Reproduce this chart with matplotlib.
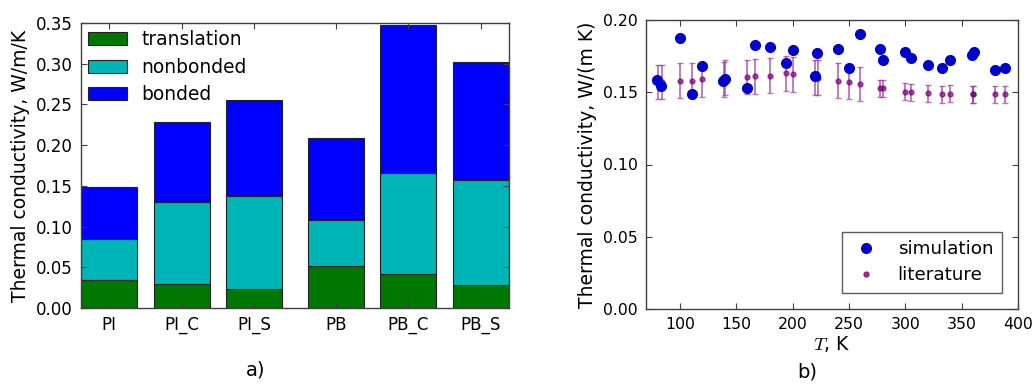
import matplotlib
matplotlib.use("Agg")
import matplotlib.pyplot as plt
from matplotlib.lines import Line2D
import numpy as np

# ---- panel a) data ----
categories = ["PI", "PI_C", "PI_S", "PB", "PB_C", "PB_S"]
bar_pos = [0, 1, 2, 3.12, 4.12, 5.12]
translation = [0.035, 0.030, 0.023, 0.051, 0.042, 0.028]
nonbonded = [0.050, 0.100, 0.115, 0.057, 0.124, 0.129]
bonded = [0.064, 0.098, 0.117, 0.101, 0.181, 0.145]

# ---- panel b) data ----
sim_T = [79.6, 83.4, 100, 111, 120, 138.7, 140, 160, 166.8, 180, 194.3, 200,
         219.7, 222, 240, 249.9, 260, 277.4, 280, 300, 305.4, 320, 333, 340,
         359.5, 360.7, 380, 388.8]
sim_k = [0.1585, 0.1544, 0.1876, 0.149, 0.168, 0.158, 0.159, 0.153, 0.183,
         0.1816, 0.170, 0.179, 0.161, 0.177, 0.180, 0.167, 0.190, 0.180,
         0.1726, 0.178, 0.1735, 0.169, 0.167, 0.172, 0.1758, 0.178, 0.1654,
         0.167]
lit_T = [80.5, 83.8, 100, 111, 120, 139.3, 140.2, 160, 166.8, 180, 194.3, 200,
         220, 222.3, 240, 249.9, 260, 277.4, 280, 300, 305.4, 320, 333, 340,
         359.8, 360.5, 380, 388.8]
lit_k = [0.157, 0.157, 0.158, 0.158, 0.159, 0.159, 0.160, 0.1605, 0.161,
         0.1615, 0.163, 0.1625, 0.160, 0.160, 0.158, 0.157, 0.1558, 0.1527,
         0.1527, 0.1505, 0.150, 0.1493, 0.1486, 0.149, 0.1486, 0.1486, 0.1486,
         0.1486]
lit_err = [0.0117, 0.0117, 0.012, 0.012, 0.012, 0.012, 0.012, 0.012, 0.012,
           0.012, 0.012, 0.012, 0.012, 0.012, 0.012, 0.012, 0.012, 0.006,
           0.006, 0.006, 0.006, 0.006, 0.006, 0.006, 0.006, 0.006, 0.006,
           0.006]

plt.rcParams['font.family'] = ['DejaVu Sans']
plt.rcParams['mathtext.fontset'] = 'cm'
fig = plt.figure(figsize=(10.33, 3.89), dpi=100)
W, H = 1033, 389

def add_axes(x0, y0, x1, y1):
    return fig.add_axes([x0 / W, 1 - y1 / H, (x1 - x0) / W, (y1 - y0) / H])

spine_col = '#404040'

def style(ax, tick_size):
    for s in ax.spines.values():
        s.set_color(spine_col)
        s.set_linewidth(1.0)
    ax.tick_params(direction='in', top=True, right=True, length=4,
                   width=0.8, color=spine_col, labelsize=tick_size, pad=6)

# ---- panel a ----
ax1 = add_axes(81, 23, 509, 308)
bw = 0.77
b1 = np.array(translation)
b2 = b1 + np.array(nonbonded)
ax1.bar(bar_pos, translation, width=bw, color='#007700', edgecolor='#222222',
        linewidth=0.8, label='translation')
ax1.bar(bar_pos, nonbonded, width=bw, bottom=b1, color='#00b5b5',
        edgecolor='#222222', linewidth=0.8, label='nonbonded')
ax1.bar(bar_pos, bonded, width=bw, bottom=b2, color='#0000ff',
        edgecolor='#222222', linewidth=0.8, label='bonded')
ax1.set_xlim(bar_pos[0] - bw / 2, bar_pos[-1] + bw / 2)
ax1.set_ylim(0, 0.35)
ax1.set_yticks(np.arange(0, 0.351, 0.05))
ax1.set_yticklabels([f"{v:.2f}" for v in np.arange(0, 0.351, 0.05)])
ax1.set_xticks(bar_pos)
ax1.set_xticklabels(categories)
style(ax1, 12)
ax1.set_ylabel("Thermal conductivity, W/m/K", fontsize=13.5, labelpad=4)
leg1 = ax1.legend(loc='upper left', frameon=False, fontsize=13.4,
                  handlelength=2.05, handleheight=0.7, handletextpad=0.8,
                  labelspacing=0.45, borderpad=0.2, borderaxespad=0.2)
fig.text(256 / W, 1 - 370 / H, "a)", fontsize=14, ha='center', va='center')

# ---- panel b ----
ax2 = add_axes(646, 20, 1018, 309)
ax2.errorbar(lit_T, lit_k, yerr=lit_err, fmt='o', color='#800080',
             markersize=3.5, elinewidth=1.3, capsize=2.5, capthick=1.0,
             alpha=0.7, ecolor='#9b3a9b', zorder=2)
ax2.plot(sim_T, sim_k, 'o', color='#0000cc', markersize=7, zorder=3)
ax2.set_xlim(70, 400)
ax2.set_ylim(0, 0.20)
ax2.set_xticks([100, 150, 200, 250, 300, 350, 400])
ax2.set_yticks(np.arange(0, 0.201, 0.05))
ax2.set_yticklabels([f"{v:.2f}" for v in np.arange(0, 0.201, 0.05)])
style(ax2, 11.3)
ax2.set_ylabel("Thermal conductivity, W/(m K)", fontsize=13.5, labelpad=4)
ax2.set_xlabel("$T$, K", fontsize=13.5, labelpad=1)
handles = [Line2D([], [], ls='none', marker='o', color='#0000cc', markersize=7),
           Line2D([], [], ls='none', marker='o', color='#800080',
                  markersize=3.5, alpha=0.8)]
leg2 = ax2.legend(handles, ['simulation', 'literature'],
                  loc='lower right', fontsize=13.2, numpoints=1,
                  handlelength=1.7, handletextpad=0.9, labelspacing=0.45,
                  borderpad=0.45, borderaxespad=0.9, fancybox=False)
leg2.get_frame().set_edgecolor('#333333')
leg2.get_frame().set_linewidth(1.0)
fig.text(807 / W, 1 - 372 / H, "b)", fontsize=14, ha='center', va='center')

fig.savefig("out.png", dpi=100)
